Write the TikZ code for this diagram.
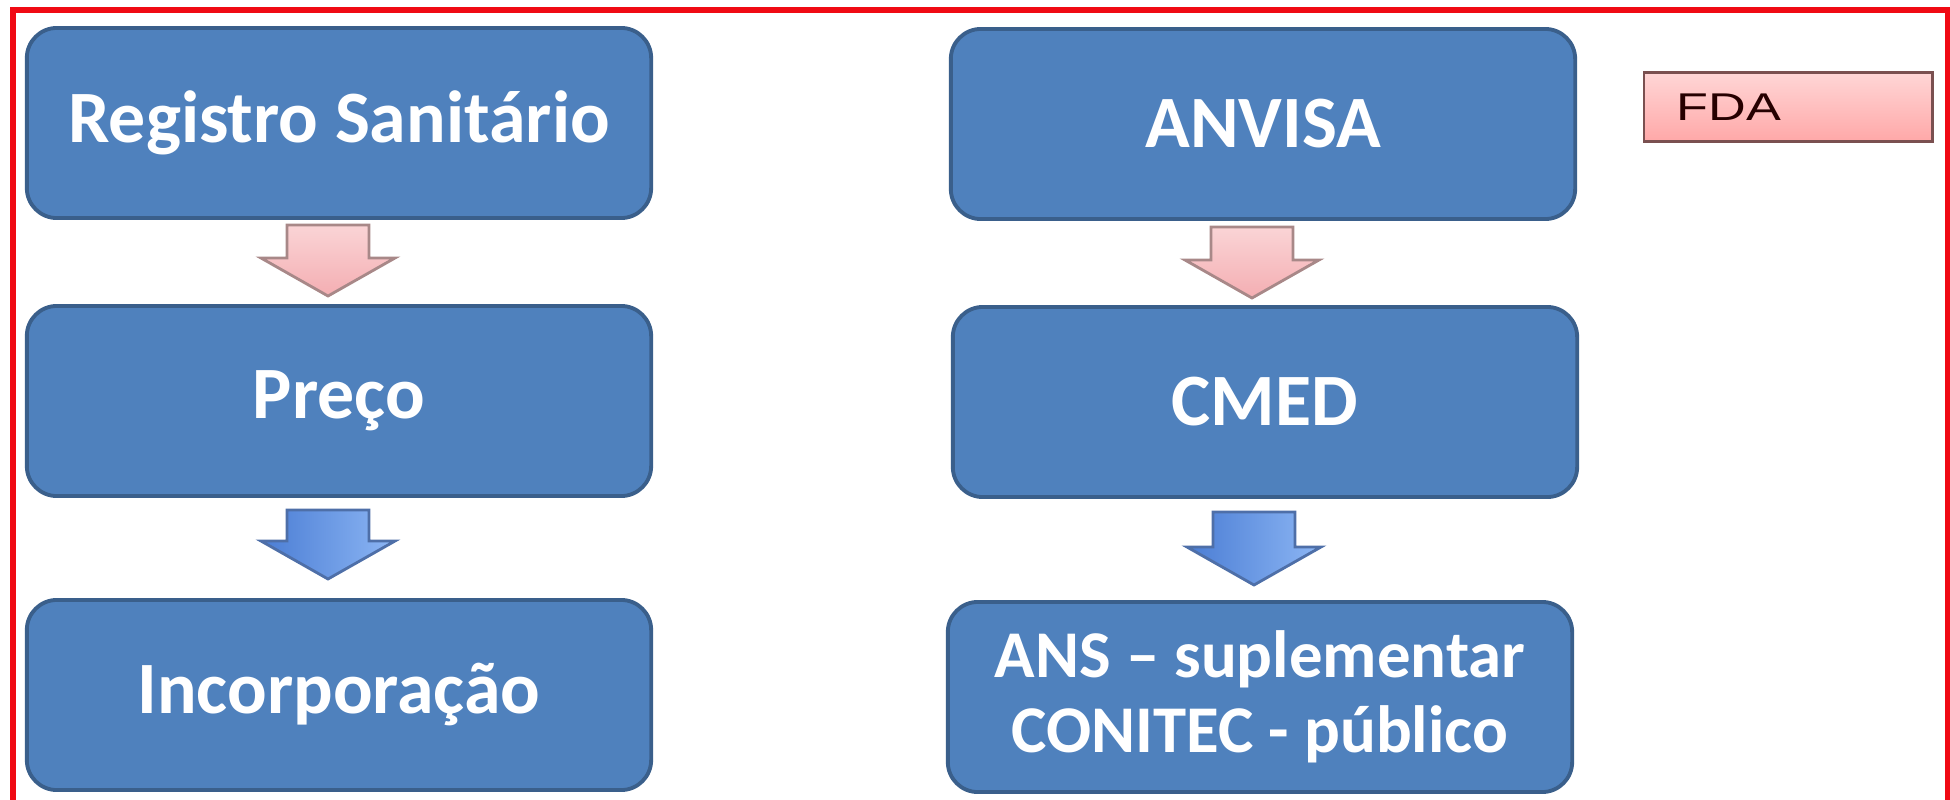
\documentclass[tikz,border=0pt]{standalone}
\usepackage{fontspec}
\setmainfont{Carlito}
\newfontfamily\fdafont{Liberation Sans}
\usetikzlibrary{calc,positioning}
\definecolor{boxblue}{HTML}{4F81BD}
\definecolor{boxedge}{HTML}{3A5F8B}
\definecolor{pinklight}{HTML}{FAD4D6}
\definecolor{pinkdark}{HTML}{F4AEB2}
\definecolor{pinkedge}{HTML}{A88888}
\definecolor{bluelight}{HTML}{8DB6F4}
\definecolor{bluedark}{HTML}{4A7DD4}
\definecolor{blueedge}{HTML}{4E6FA8}
\definecolor{tagtop}{HTML}{FFD6D6}
\definecolor{tagbottom}{HTML}{FFA8A8}
\definecolor{tagedge}{HTML}{7A5050}
\definecolor{frame}{HTML}{F00A14}
\tikzset{
  stage/.style={draw=boxedge,fill=boxblue,line width=1.1pt,rounded corners=0.3cm,minimum width=6.24cm,minimum height=1.9cm,align=center,text=white,font=\fontsize{21}{22}\selectfont\bfseries},
  pinkarrow/.style={draw=pinkedge,line width=0.8pt,top color=pinklight,bottom color=pinkdark},
  bluearrow/.style={draw=blueedge,line width=0.8pt,left color=bluedark,right color=bluelight},
  tagbox/.style={draw=tagedge,line width=0.8pt,top color=tagtop,bottom color=tagbottom,minimum width=2.88cm,minimum height=0.69cm,inner xsep=0.33cm,text width=2.22cm,align=left,text=black!85!red,font=\fdafont\fontsize{11}{11}\selectfont}
}
\begin{document}
\begin{tikzpicture}[x=0.01cm,y=-0.01cm]
\useasboundingbox (0,0) rectangle (1950,800);
\draw[frame,line width=0.05cm] (13,10) rectangle (1947,830);
% left column
\node[stage] (reg) at (339,123) {Registro Sanitário};
\node[stage] (pre) at (339,401) {Preço};
\node[stage] (inc) at (339,695) {Incorporação};
% right column
\node[stage] (anv) at (1263,124) {ANVISA};
\node[stage] (cmed) at (1265,402) {CMED};
\node[stage,font=\fontsize{19}{21.5}\selectfont\bfseries] (ans) at (1260,697) {ANS – suplementar\\CONITEC - público};
\node[tagbox] (fda) at (1788,107) {\scalebox{1.35}[1]{FDA}};
% block arrows
\foreach \a/\b/\s/\t/\e in {reg/pre/pinkarrow/5/8, pre/inc/bluearrow/12/19, anv/cmed/pinkarrow/6/7, cmed/ans/bluearrow/13/15}{
  \path[\s] let \p1=($(\a.south)+(-11,\t)$), \p2=($(\b.north)+(-11,-\e)$) in
    (\x1-0.41cm,\y1) -- (\x1+0.41cm,\y1) -- (\x1+0.41cm,\y2+0.38cm) -- (\x1+0.67cm,\y2+0.38cm)
    -- (\x1,\y2) -- (\x1-0.67cm,\y2+0.38cm) -- (\x1-0.41cm,\y2+0.38cm) -- cycle;
}
\end{tikzpicture}
\end{document}
